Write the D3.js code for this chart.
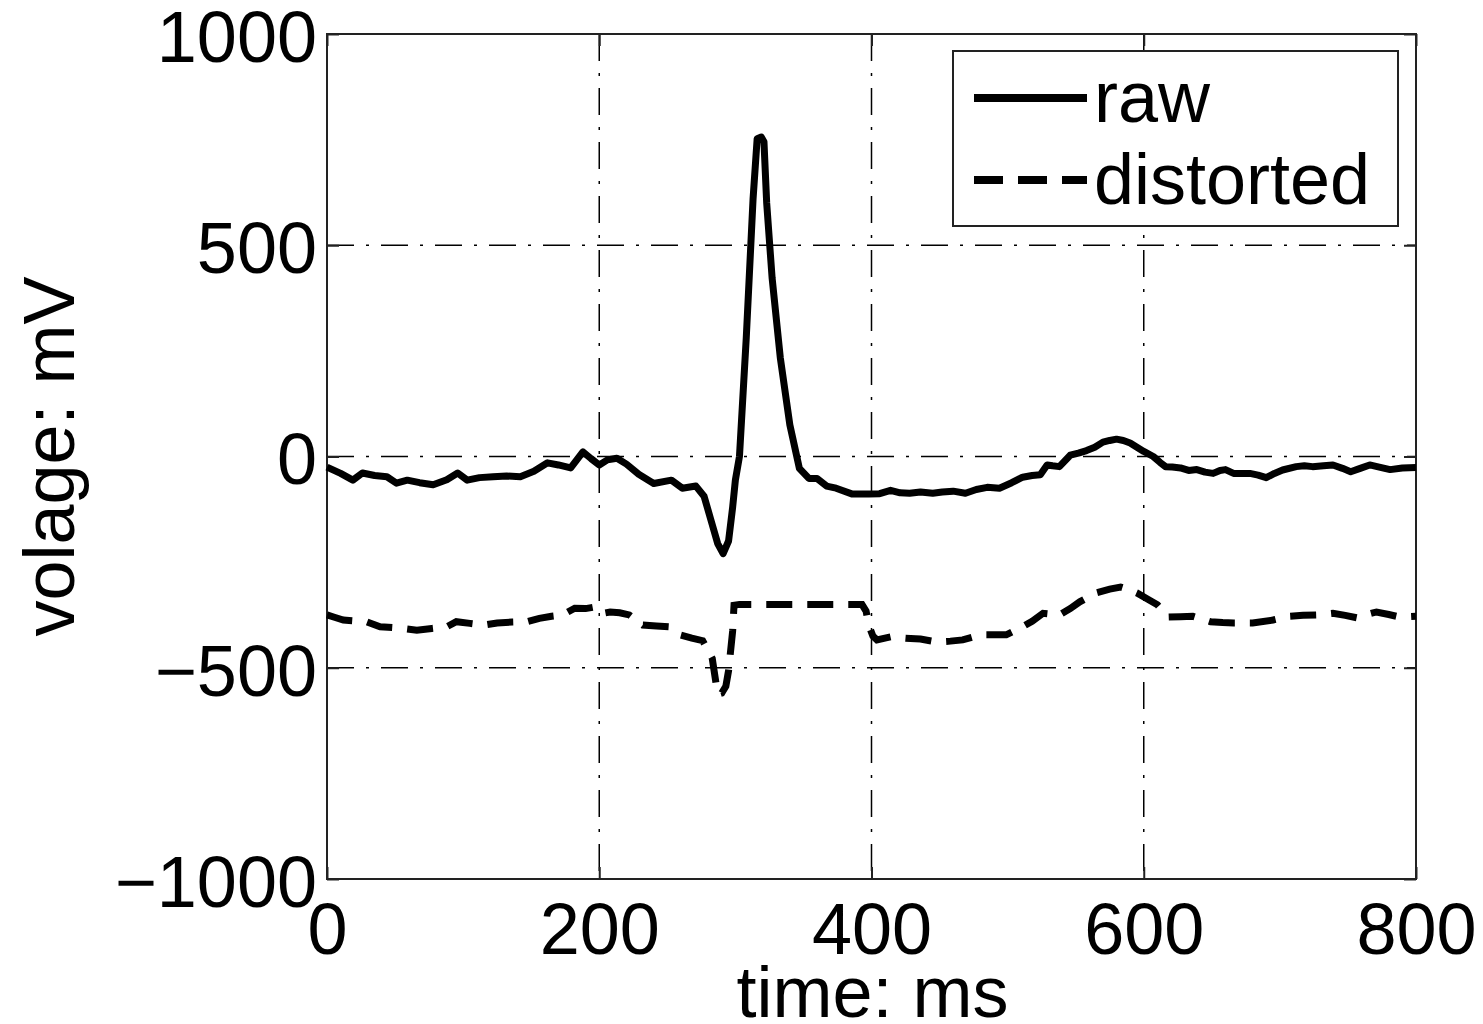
<!DOCTYPE html>
<html>
<head>
<meta charset="utf-8">
<script src="https://cdn.jsdelivr.net/npm/d3@7"></script>
<style>
  body { margin: 0; background: #fff; }
  text { font-family: "Liberation Sans", Arial, Helvetica, sans-serif; }
</style>
</head>
<body>
<svg id="chart"></svg>
<script>
// ECG: raw vs distorted trace
const xTicks = [0, 200, 400, 600, 800];
const yTicks = [-1000, -500, 0, 500, 1000];

const rawTime = [0, 10, 19, 26, 35, 44, 51, 59, 68, 78, 88, 96, 103, 112, 122, 132, 142, 152, 162, 170,
    179, 188, 194, 200, 206, 213, 220, 229, 240, 253, 261, 271, 277, 282, 287, 291, 295, 298, 300, 303,
    308, 313, 316, 319, 321, 323, 327, 333, 340, 347, 354, 360, 367, 374, 386, 398, 406, 414, 421, 428,
    436, 445, 452, 460, 469, 477, 485, 494, 503, 511, 518, 524, 529, 533, 538, 546, 552, 558, 564, 570,
    575, 580, 585, 590, 595, 600, 607, 612, 616, 621, 627, 633, 639, 645, 651, 656, 660, 666, 672, 678,
    684, 690, 696, 702, 712, 718, 724, 732, 739, 746, 752, 759, 766, 773, 781, 790, 800];
const rawVolt = [-25, -40, -56, -39, -45, -48, -63, -56, -62, -67, -55, -39, -56, -50, -48, -46, -48, -35, -15, -20,
    -27, 11, -5, -20, -8, -4, -18, -42, -64, -56, -75, -70, -94, -150, -206, -230, -200, -120, -56, 0,
    281, 610, 752, 756, 745, 600, 422, 234, 75, -28, -52, -52, -70, -75, -89, -89, -88, -80, -86, -87,
    -84, -87, -84, -82, -87, -78, -73, -75, -62, -49, -45, -43, -20, -22, -24, 3, 8, 14, 22, 34,
    38, 41, 38, 32, 22, 12, 0, -14, -24, -25, -27, -33, -31, -37, -40, -33, -31, -40, -40, -40,
    -44, -50, -40, -32, -24, -22, -24, -22, -20, -28, -36, -28, -20, -25, -31, -27, -26];

const distTime = [0, 6, 12, 20, 29, 39, 48, 56, 66, 77, 88, 95, 105, 115, 125, 136, 147, 156, 165, 173,
    182, 190, 197, 203, 208, 215, 222, 232, 242, 251, 259, 268, 276, 283, 287, 290, 293, 295, 298, 299,
    303, 393, 396, 398, 401, 404, 414, 425, 436, 448, 458, 467, 480, 490, 499, 511, 518, 526, 532, 538,
    546, 553, 565, 575, 583, 590, 595, 603, 610, 618, 627, 636, 649, 658, 666, 680, 695, 707, 717, 727,
    739, 748, 757, 764, 771, 780, 788, 800];
const distVolt = [-375, -381, -387, -389, -391, -403, -405, -407, -411, -407, -403, -391, -395, -399, -394, -392, -391, -383, -378, -375,
    -359, -360, -356, -371, -368, -370, -375, -399, -401, -403, -422, -430, -436, -478, -563, -560, -544, -507, -413, -352,
    -350, -350, -366, -399, -425, -434, -427, -430, -432, -439, -437, -434, -422, -422, -422, -403, -390, -371, -373, -375,
    -360, -344, -323, -314, -309, -316, -323, -338, -351, -380, -379, -378, -391, -393, -394, -394, -387, -378, -376, -375,
    -371, -376, -382, -374, -368, -374, -380, -378];

const seriesNames = ["raw", "distorted"];

const width = 1483, height = 1024;
const plot = { left: 327, right: 1416, top: 34, bottom: 879 };
const fontSize = 72;

const svg = d3.select("#chart")
    .attr("width", width)
    .attr("height", height);

const x = d3.scaleLinear().domain([0, 800]).range([plot.left, plot.right]);
const y = d3.scaleLinear().domain([-1000, 1000]).range([plot.bottom, plot.top]);

const gridDash = "27,12,3,12";

// grid lines (dash-dot)
svg.append("g")
    .selectAll("line")
    .data(xTicks.slice(1, -1))
    .enter()
    .append("line")
    .attr("x1", d => x(d)).attr("x2", d => x(d))
    .attr("y1", plot.top).attr("y2", plot.bottom)
    .attr("stroke", "#000")
    .attr("stroke-width", 1.5)
    .attr("stroke-dasharray", gridDash);

svg.append("g")
    .selectAll("line")
    .data(yTicks.slice(1, -1))
    .enter()
    .append("line")
    .attr("x1", plot.left).attr("x2", plot.right)
    .attr("y1", d => y(d)).attr("y2", d => y(d))
    .attr("stroke", "#000")
    .attr("stroke-width", 1.5)
    .attr("stroke-dasharray", gridDash);

// axes with inward ticks
const tickLen = 12;
const xAxisB = svg.append("g")
    .attr("transform", `translate(0,${plot.bottom})`)
    .call(d3.axisBottom(x).tickValues(xTicks).tickSize(-tickLen).tickPadding(26).tickSizeOuter(0));
const xAxisT = svg.append("g")
    .attr("transform", `translate(0,${plot.top})`)
    .call(d3.axisTop(x).tickValues(xTicks).tickSize(-tickLen).tickFormat("").tickSizeOuter(0));
const yAxisL = svg.append("g")
    .attr("transform", `translate(${plot.left},0)`)
    .call(d3.axisLeft(y).tickValues(yTicks).tickSize(-tickLen).tickPadding(10).tickSizeOuter(0)
        .tickFormat(d => d < 0 ? "\u2212" + Math.abs(d) : d));
const yAxisR = svg.append("g")
    .attr("transform", `translate(${plot.right},0)`)
    .call(d3.axisRight(y).tickValues(yTicks).tickSize(-tickLen).tickFormat("").tickSizeOuter(0));

[xAxisB, xAxisT, yAxisL, yAxisR].forEach(g => {
    g.select(".domain").remove();
    g.selectAll(".tick line").attr("stroke", "#222").attr("stroke-width", 2);
});

xAxisB.selectAll(".tick text")
    .attr("font-size", fontSize)
    .attr("fill", "#000")
    .attr("dy", "0.71em")
    .attr("y", 24);
yAxisL.selectAll(".tick text")
    .attr("font-size", fontSize)
    .attr("fill", "#000")
    .attr("dy", "0.38em");

// frame
svg.append("rect")
    .attr("x", plot.left).attr("y", plot.top)
    .attr("width", plot.right - plot.left)
    .attr("height", plot.bottom - plot.top)
    .attr("fill", "none")
    .attr("stroke", "#222")
    .attr("stroke-width", 2);

// series
const line = d3.line()
    .x(d => x(d[0]))
    .y(d => y(d[1]));

const rawData = rawTime.map((t, i) => [t, rawVolt[i]]);
const distData = distTime.map((t, i) => [t, distVolt[i]]);

svg.append("path")
    .datum(rawData)
    .attr("fill", "none")
    .attr("stroke", "#000")
    .attr("stroke-width", 7)
    .attr("stroke-linejoin", "round")
    .attr("d", line);

svg.append("path")
    .datum(distData)
    .attr("fill", "none")
    .attr("stroke", "#000")
    .attr("stroke-width", 7)
    .attr("stroke-dasharray", "26,15")
    .attr("d", line);

// axis labels
svg.append("text")
    .attr("x", x(400) + 1)
    .attr("y", 1017)
    .attr("text-anchor", "middle")
    .attr("font-size", fontSize)
    .text("time: ms");

svg.append("text")
    .attr("transform", `translate(74,${y(0)}) rotate(-90)`)
    .attr("text-anchor", "middle")
    .attr("font-size", fontSize)
    .text("volage: mV");

// legend
const legend = svg.append("g");
legend.append("rect")
    .attr("x", 953).attr("y", 51)
    .attr("width", 445).attr("height", 175)
    .attr("fill", "#fff")
    .attr("stroke", "#222")
    .attr("stroke-width", 2);

const legendY = [98, 180];
const legendDash = [null, "29,15"];
seriesNames.forEach((name, i) => {
    legend.append("line")
        .attr("x1", 974).attr("x2", 1087)
        .attr("y1", legendY[i]).attr("y2", legendY[i])
        .attr("stroke", "#000")
        .attr("stroke-width", 8)
        .attr("stroke-dasharray", legendDash[i]);
    legend.append("text")
        .attr("x", 1094)
        .attr("y", legendY[i] + 24)
        .attr("font-size", fontSize)
        .text(name);
});
</script>
</body>
</html>
